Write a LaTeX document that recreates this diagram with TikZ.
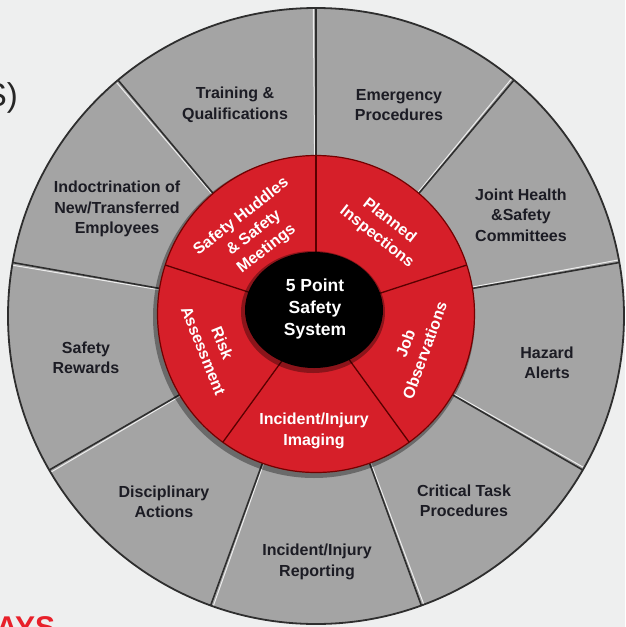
\documentclass[tikz,border=0pt]{standalone}
\usepackage{fontspec}
\setmainfont{Liberation Sans}
\begin{document}
\begin{tikzpicture}[x=1pt,y=1pt]
\definecolor{bg}{HTML}{EEEFEF}
\definecolor{sectgray}{HTML}{A4A4A4}
\definecolor{ringred}{HTML}{D61F29}
\definecolor{edge}{HTML}{2E2E2E}
\definecolor{txt}{HTML}{1C1C24}
\definecolor{hdred}{HTML}{E8202A}
\tikzset{
 outerlbl/.style={font=\bfseries\fontsize{16}{20.5}\selectfont, text=txt, align=center, inner sep=0pt},
 innerlbl/.style={font=\bfseries\fontsize{16}{20.5}\selectfont, text=white, align=center, inner sep=0pt},
 centerlbl/.style={font=\bfseries\fontsize{17.5}{22}\selectfont, text=white, align=center, inner sep=0pt},
 spoke/.style={draw=edge, line width=1.6pt},
 spokehi/.style={draw=white!85!gray, line width=1pt},
 redspoke/.style={draw=black!65!red, line width=1.3pt}
}
\useasboundingbox (0,0) rectangle (625,-627);
\fill[bg] (0,0) rectangle (625,-627);
% partial page texts
\node[font=\fontsize{33}{36}\selectfont, text=black!85, anchor=base east, inner sep=0pt] (pg1) at (18,-106) {S)};
\node[font=\bfseries\fontsize{30}{32}\selectfont, text=hdred, anchor=north west, inner sep=0pt] (pg2) at (-4,-616) {AYS};
\coordinate (C) at (316,-316);
\coordinate (R) at (316,-314);
\coordinate (B) at (314,-310);
% outer ring
\fill[sectgray] (C) circle (308);
\foreach \a in {90,130,...,410} {
  \draw[spokehi] ([shift={(\a+0.5:157)}]C) -- ([shift={(\a+0.5:308)}]C);
  \draw[spoke] ([shift={(\a:157)}]C) -- ([shift={(\a:308)}]C);
}
\draw[edge, line width=1.8pt] (C) circle (308);
% red ring
\fill[black, opacity=0.35] ([shift={(-2,-3)}]R) circle (161);
\fill[ringred] (R) circle (158.5);
\draw[black!55!red, line width=1.2pt] (R) circle (158.5);
\foreach \a in {90,18,-54,-126,162}
  \draw[redspoke] ([shift={(\a:55)}]R) -- ([shift={(\a:158.5)}]R);
% black center
\fill[black, opacity=0.35] ([shift={(-1,-2)}]B) ellipse (72 and 61);
\fill[black] (B) ellipse (69 and 58);
% outer labels
\node[outerlbl] (trn) at (235,-105) {Training \&\\Qualifications};
\node[outerlbl] (emg) at (399,-105) {Emergency\\Procedures};
\node[outerlbl] (jhs) at (521,-215) {Joint Health\\\&Safety\\Committees};
\node[outerlbl] (haz) at (547,-363) {Hazard\\Alerts};
\node[outerlbl] (ctp) at (464,-501) {Critical Task\\Procedures};
\node[outerlbl] (iir) at (317,-562) {Incident/Injury\\Reporting};
\node[outerlbl] (dis) at (164,-502) {Disciplinary\\Actions};
\node[outerlbl] (srw) at (86,-358) {Safety\\Rewards};
\node[outerlbl] (ind) at (117,-209) {Indoctrination of\\New/Transferred\\Employees};
% inner labels
\node[innerlbl, rotate=38] (shm) at (254,-233) {Safety Huddles\\\& Safety\\Meetings};
\node[innerlbl, rotate=-38] (pin) at (383,-229) {Planned\\Inspections};
\node[innerlbl, rotate=70] (job) at (415,-347) {Job\\Observations};
\node[innerlbl] (iii) at (314,-431) {Incident/Injury\\Imaging};
\node[innerlbl, rotate=-68] (rsk) at (213,-347) {Risk\\Assessment};
% center
\node[centerlbl] (ctr) at (315,-309) {5 Point\\Safety\\System};
\end{tikzpicture}
\end{document}
